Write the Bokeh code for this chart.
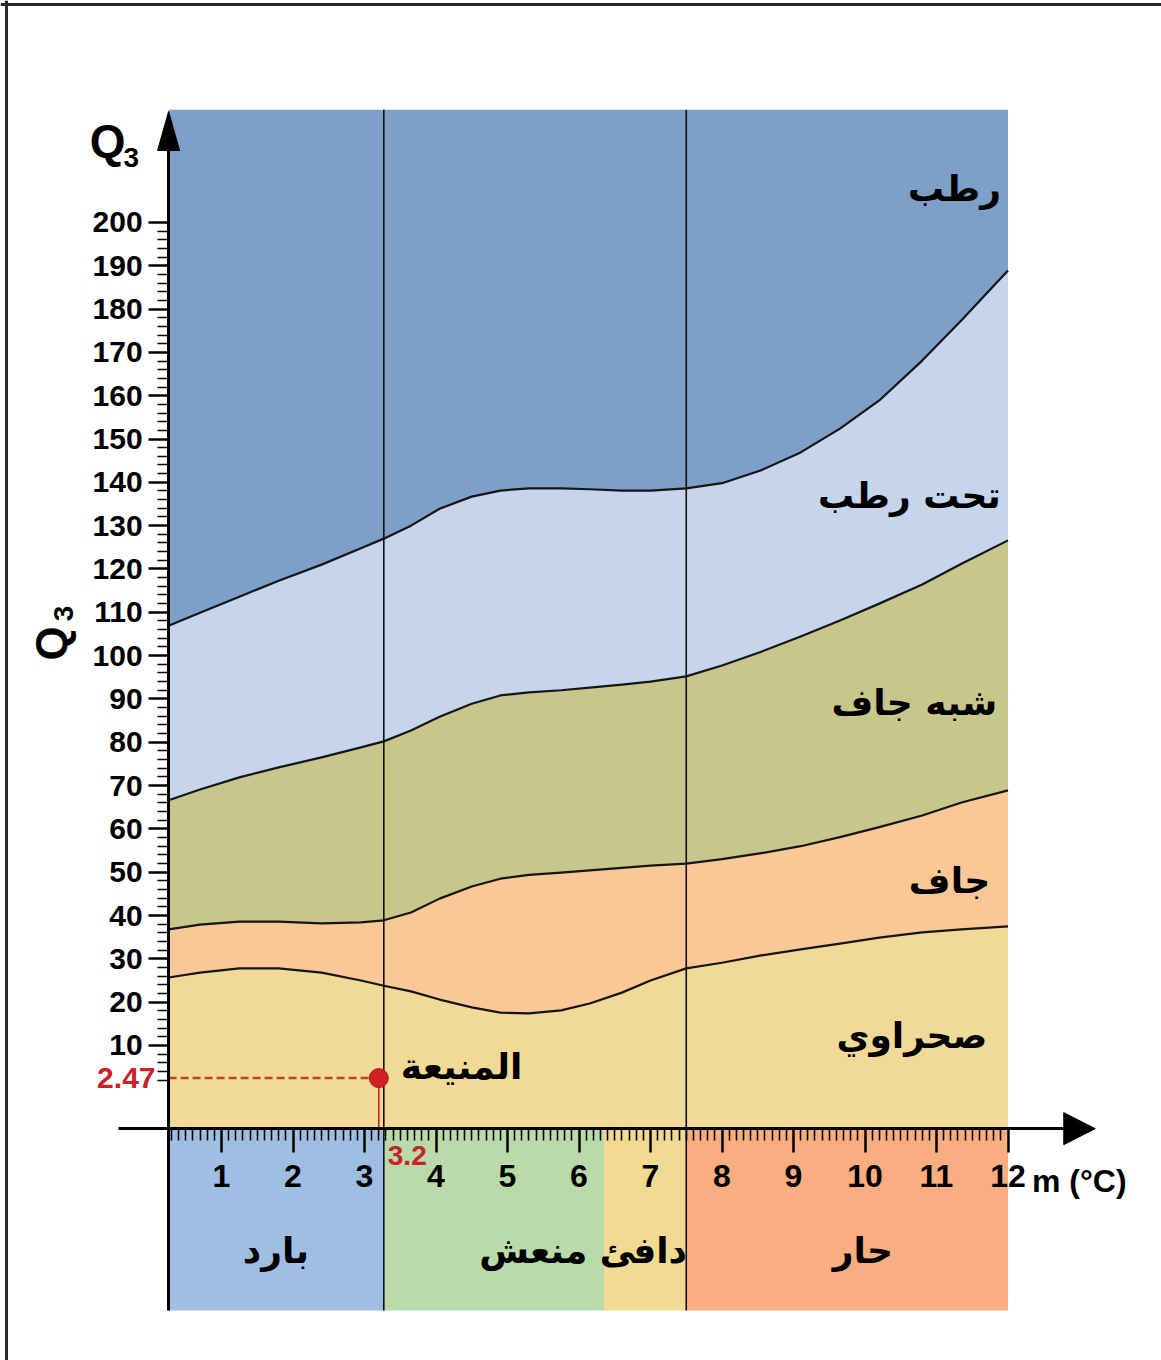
import math
from bokeh.plotting import figure
from bokeh.models import LinearAxis, FixedTicker, Range1d, Span
from bokeh.core.properties import value
from bokeh.embed import file_html
from bokeh.resources import INLINE

# ---------------- data ----------------
m_pts = [0.26, 0.7, 1.25, 1.8, 2.4, 2.95, 3.27, 3.65, 4.05, 4.5, 4.9, 5.3, 5.75,
         6.15, 6.6, 7.0, 7.5, 8.0, 8.55, 9.1, 9.65, 10.2, 10.8, 11.35, 12.0]
b_saharan_arid = [25.7, 26.8, 27.8, 27.8, 26.8, 25.0, 23.8, 22.5, 20.6, 18.8, 17.6, 17.4, 18.1,
                  19.7, 22.2, 25.0, 27.8, 29.1, 30.8, 32.2, 33.5, 34.9, 36.1, 36.8, 37.5]
b_arid_semiarid = [36.8, 37.9, 38.6, 38.6, 38.2, 38.4, 38.9, 40.7, 43.9, 46.7, 48.5, 49.4, 49.9,
                   50.4, 51.0, 51.5, 52.0, 53.0, 54.4, 56.0, 58.1, 60.4, 63.1, 66.1, 68.9]
b_semiarid_subhumid = [66.6, 69.1, 71.9, 74.2, 76.5, 78.8, 80.2, 82.7, 85.9, 88.9, 90.8, 91.5, 92.0,
                       92.6, 93.3, 94.0, 95.2, 97.7, 100.9, 104.4, 108.1, 112.0, 116.4, 121.2, 126.6]
b_subhumid_humid = [106.9, 109.9, 113.6, 117.3, 121.0, 124.8, 127.0, 130.0, 133.9, 136.7, 138.1, 138.6, 138.6,
                    138.4, 138.1, 138.1, 138.6, 139.8, 142.8, 146.9, 152.4, 158.9, 168.1, 177.4, 188.9]

zone_names = ["رطب", "تحت رطب", "شبه جاف", "جاف", "صحراوي"]
zone_label_m = [11.9, 11.9, 11.85, 11.75, 11.71]
zone_label_q = [207.8, 136.9, 89.2, 48.1, 12.3]

temp_names = ["بارد", "منعش", "دافئ", "حار"]
temp_left = [0.26, 3.27, 6.35, 7.5]
temp_right = [3.27, 6.35, 7.5, 12.0]
temp_label_m = [1.76, 5.36, 6.9, 9.97]
temp_dividers = [3.27, 7.5]

station_name = "المنيعة"
station_m = 3.2
station_q = 2.47

y_ticks = list(range(10, 201, 10))
x_ticks = list(range(1, 13))

# ---------------- styling / geometry ----------------
W, H = 1161, 1360
PXX, X0 = 71.5, 149.5          # px per unit m, px of m=0
PXY, Y0 = 4.332, 1088.3        # px per unit Q3, px of Q3=0
x_start, x_end = (0 - X0) / PXX, (W - X0) / PXX
y_end, y_start = Y0 / PXY, (Y0 - H) / PXY

LEFT = 0.26        # y-axis position / chart left edge
TOP = 226.0
AXIS_Y = -9.2      # x-axis position
BOTTOM = -51.2     # bottom of the temperature band

zone_colors = ["#7E9FC7", "#C6D5EC", "#C9C68C", "#FAC796", "#F1D998"]
temp_colors = ["#9EBEE2", "#BADAAA", "#F2DA92", "#F8AE80"]
RED = "#C8222B"
NUM_FONT = "Liberation Sans"
AR_FONT = "DejaVu Sans"

p = figure(width=W, height=H, x_range=Range1d(x_start, x_end), y_range=Range1d(y_start, y_end),
           output_backend="svg", toolbar_location=None, min_border=0,
           x_axis_type=None, y_axis_type=None)
p.outline_line_color = None
p.background_fill_color = "white"
p.border_fill_color = "white"

# temperature bands under the axis
p.quad(left=temp_left, right=temp_right, bottom=BOTTOM, top=AXIS_Y,
       fill_color=temp_colors, line_color=None)

# climate zones
n = len(m_pts)
layers = [
    ([TOP] * n, b_subhumid_humid),
    (b_subhumid_humid, b_semiarid_subhumid),
    (b_semiarid_subhumid, b_arid_semiarid),
    (b_arid_semiarid, b_saharan_arid),
    (b_saharan_arid, [AXIS_Y] * n),
]
for (upper, lower), col in zip(layers, zone_colors):
    p.varea(x=m_pts, y1=lower, y2=upper, fill_color=col)

for b in [b_saharan_arid, b_arid_semiarid, b_semiarid_subhumid, b_subhumid_humid]:
    p.line(m_pts, b, line_color="#151515", line_width=2.2, line_join="round")

p.segment(x0=temp_dividers, y0=BOTTOM, x1=temp_dividers, y1=TOP,
          line_color="#111111", line_width=1.6)

# axes
x_minor = [round(i * 0.1, 1) for i in range(3, 121) if i % 10 != 0]
xaxis = LinearAxis(fixed_location=AXIS_Y, bounds=(-0.44, 12.8),
                   ticker=FixedTicker(ticks=x_ticks, minor_ticks=x_minor))
y_minor = [v for v in range(0, 201, 2) if v % 10 != 0]
yaxis = LinearAxis(fixed_location=LEFT, bounds=(BOTTOM, 217),
                   ticker=FixedTicker(ticks=y_ticks, minor_ticks=y_minor))
for ax in (xaxis, yaxis):
    ax.axis_line_width = 3
    ax.axis_line_color = "black"
    ax.major_tick_in = 0
    ax.minor_tick_in = 0
    ax.major_tick_line_width = 2.5
    ax.minor_tick_line_width = 1.6
    ax.major_tick_line_color = "black"
    ax.minor_tick_line_color = "black"
    ax.major_label_text_font = NUM_FONT
    ax.major_label_text_font_style = "bold"
    ax.major_label_text_color = "black"
xaxis.major_tick_out = 24
xaxis.minor_tick_out = 12
xaxis.major_label_text_font_size = "32px"
xaxis.major_label_standoff = 12
yaxis.major_tick_out = 20
yaxis.minor_tick_out = 11
yaxis.major_label_text_font_size = "30px"
yaxis.major_label_standoff = 6
p.add_layout(xaxis, "below")
p.add_layout(yaxis, "left")

# arrow heads of the axes
hx = 11 / PXX
p.patch([LEFT - hx, LEFT, LEFT + hx], [216.6, 225.6, 216.6], fill_color="black", line_color="black")
hy = 16 / PXY
p.patch([12.78, 13.22, 12.78], [AXIS_Y - hy, AXIS_Y, AXIS_Y + hy], fill_color="black", line_color="black")

# station
p.line([LEFT, station_m], [station_q, station_q], line_color="#C0402A", line_width=2.5, line_dash="8 4")
p.segment(x0=[station_m], y0=[station_q], x1=[station_m], y1=[AXIS_Y - 1.5], line_color=RED, line_width=1.6)
p.scatter([station_m], [station_q], size=19, fill_color="#D41F27", line_color="#B01820")
p.text(x=[station_m], y=[station_q], text=[station_name], x_offset=22, y_offset=-12,
       text_font=value(AR_FONT), text_font_style="bold", text_font_size="36px",
       text_align="left", text_baseline="middle", text_color="black")
p.text(x=[0.077], y=[station_q], text=[f"{station_q}"], text_font=value(NUM_FONT),
       text_font_style="bold", text_font_size="30px", text_align="right",
       text_baseline="middle", text_color=RED)
p.text(x=[station_m], y=[-15.4], text=[f"{station_m}"], x_offset=9, text_font=value(NUM_FONT),
       text_font_style="bold", text_font_size="28px", text_align="left",
       text_baseline="middle", text_color=RED)

# zone names
p.text(x=zone_label_m, y=zone_label_q, text=zone_names, text_font=value(AR_FONT),
       text_font_style="bold", text_font_size="36px", text_align="right",
       text_baseline="middle", text_color="black")

# temperature class names
p.text(x=temp_label_m, y=[-37.4] * 4, text=temp_names, text_font=value(AR_FONT),
       text_font_style="bold", text_font_size="36px", text_align="center",
       text_baseline="middle", text_color="black")

# axis titles
p.text(x=[12.0], y=[AXIS_Y], text=["m (°C)"], x_offset=24, y_offset=52, text_font=value(NUM_FONT),
       text_font_style="bold", text_font_size="32px", text_align="left",
       text_baseline="middle", text_color="black")
p.text(x=[-0.594], y=[218.7], text=["Q"], text_font=value(NUM_FONT), text_font_style="bold",
       text_font_size="46px", text_align="center", text_baseline="middle", text_color="black")
p.text(x=[-0.26], y=[215.0], text=["3"], text_font=value(NUM_FONT), text_font_style="bold",
       text_font_size="28px", text_align="center", text_baseline="middle", text_color="black")
p.text(x=[-1.378], y=[102.8], text=["Q"], angle=math.pi / 2, text_font=value(NUM_FONT),
       text_font_style="bold", text_font_size="44px", text_align="center",
       text_baseline="middle", text_color="black")
p.text(x=[-1.21], y=[109.7], text=["3"], angle=math.pi / 2, text_font=value(NUM_FONT),
       text_font_style="bold", text_font_size="28px", text_align="center",
       text_baseline="middle", text_color="black")

# frame lines of the picture
p.add_layout(Span(location=(6 - X0) / PXX, dimension="height", line_color="#2a2a2a", line_width=3))
p.add_layout(Span(location=(Y0 - 4) / PXY, dimension="width", line_color="#2a2a2a", line_width=3))

open("out.html", "w").write(file_html(p, INLINE))
